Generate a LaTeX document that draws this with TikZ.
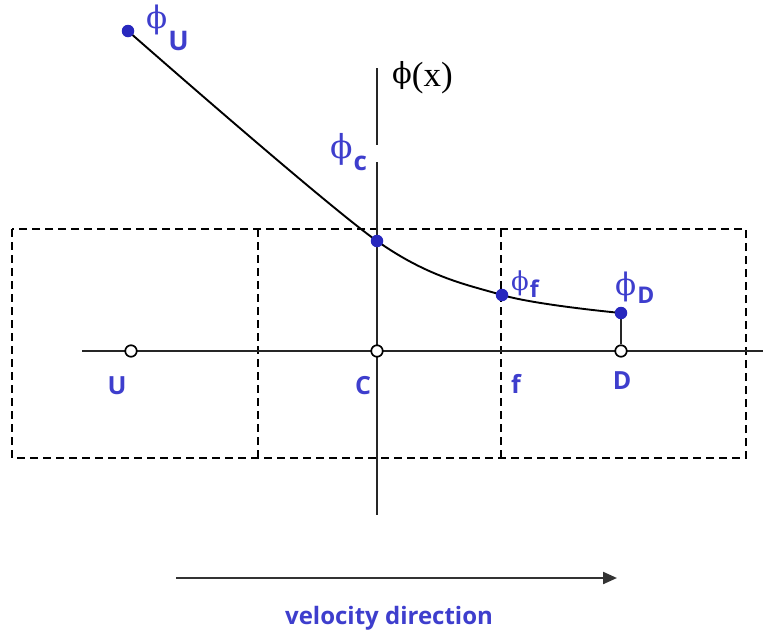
\documentclass[tikz,border=0pt]{standalone}
\usepackage{fontspec}
\setsansfont{Open Sans}
\newfontfamily\tms{Liberation Serif}
\newfontfamily\dvs{DejaVu Serif}
\usetikzlibrary{arrows.meta}
\definecolor{lblue}{RGB}{62,62,205}
\definecolor{dotblue}{RGB}{40,40,190}
\tikzset{
  axis/.style={line width=1.9pt, black!85},
  cellbox/.style={line width=1.6pt, dash pattern=on 8pt off 5pt},
  fdot/.style={circle, fill=dotblue, inner sep=0pt, minimum size=12.5pt},
  odot/.style={circle, draw=black, line width=1.7pt, fill=white, inner sep=0pt, minimum size=11.5pt},
  lbl/.style={text=lblue, font=\sffamily\bfseries\fontsize{25}{25}\selectfont, inner sep=0pt},
  phil/.style={text=lblue, inner sep=0pt, anchor=base west},
}
% #1 phi size, #2 subscript size, #3 drop, #4 subscript text
\newcommand{\phisub}[4]{{\dvs\fontsize{#1}{#1}\selectfont ϕ}\kern1pt\raisebox{-#3pt}{\sffamily\bfseries\fontsize{#2}{#2}\selectfont #4}}
\begin{document}
\begin{tikzpicture}[x=1pt,y=-1pt]
\useasboundingbox (0,0) rectangle (763,633);
% cell boxes
\draw[cellbox] (12,229) rectangle (746,458);
\draw[cellbox] (258,229) -- (258,458);
\draw[cellbox] (501,229) -- (501,458);
% axes
\coordinate (hx0) at (82,351);
\coordinate (hx1) at (763,351);
\draw[axis] (hx0) -- (hx1);
\coordinate (vt) at (377,68);
\coordinate (vg1) at (377,145);
\coordinate (vg2) at (377,162);
\coordinate (vb) at (377,515);
\draw[axis] (vt) -- (vg1);
\draw[axis] (vg2) -- (vb);
% grid nodes
\node[odot] (U) at (131,351) {};
\node[odot] (C) at (377,351) {};
\node[odot] (D) at (621,351) {};
% values
\coordinate (pUc) at (128,31);
\coordinate (pCc) at (377,241);
\coordinate (pFc) at (502,295);
\coordinate (pDc) at (621,313);
\draw[line width=1.9pt] plot[smooth, tension=0.5] coordinates {(pUc) (pCc) (pFc) (pDc)};
\draw[axis] (pDc) -- (D.north);
\node[fdot] (pU) at (pUc) {};
\node[fdot] (pC) at (pCc) {};
\node[fdot] (pF) at (pFc) {};
\node[fdot] (pD) at (pDc) {};
% labels
\node[phil] (lpU) at (146,28) {\phisub{31}{27}{22}{U}};
\node[phil] (lpC) at (330,158) {\phisub{33}{26}{12}{c}};
\node[phil] (lpF) at (511,290) {\phisub{26}{23}{7}{f}};
\node[phil] (lpD) at (615,295) {\phisub{31}{23}{8}{D}};
\node[inner sep=0pt, anchor=base west] (phx) at (392,86) {\raisebox{3pt}{\dvs\fontsize{29}{29}\selectfont ϕ}{\tms\fontsize{35}{35}\selectfont (x)}};
\node[lbl] (lU) at (117,386) {U};
\node[lbl] (lC) at (363,386) {C};
\node[lbl] (lf) at (516,384) {f};
\node[lbl] (lD) at (622,381) {D};
% velocity
\coordinate (va) at (176,578);
\coordinate (vb2) at (617,578);
\draw[line width=2.2pt, black!80, -{Triangle[length=14pt,width=12pt]}] (va) -- (vb2);
\node[lbl, font=\sffamily\bfseries\fontsize{24}{24}\selectfont] (vel) at (389,618) {velocity direction};
\end{tikzpicture}
\end{document}
